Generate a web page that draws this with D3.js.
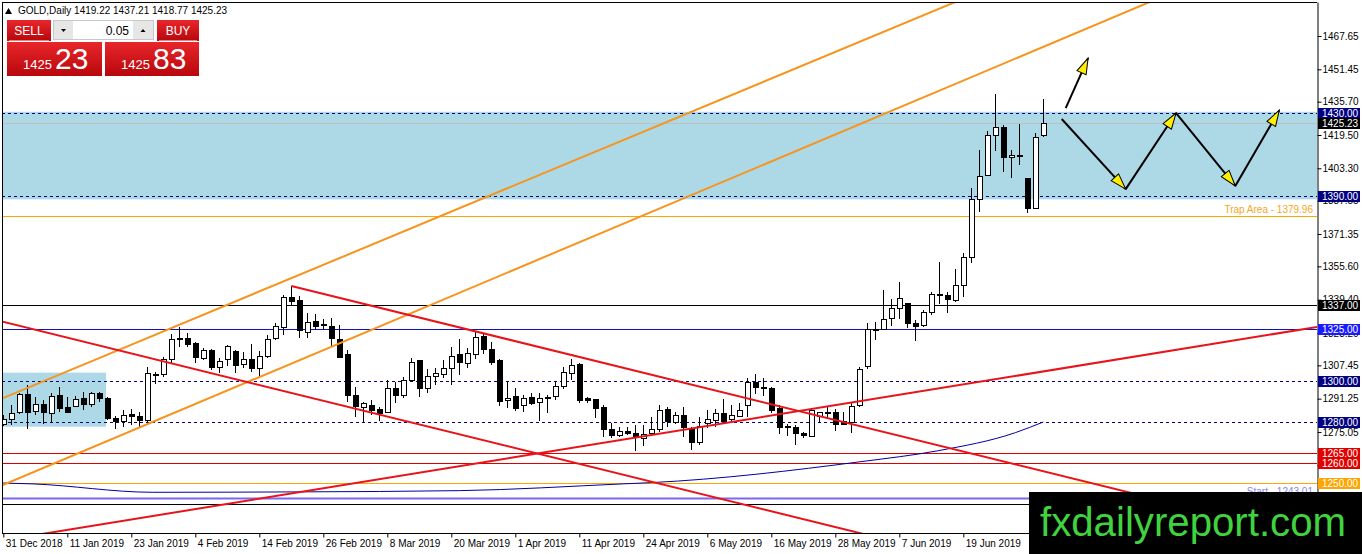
<!DOCTYPE html>
<html>
<head>
<meta charset="utf-8">
<script src="https://cdnjs.cloudflare.com/ajax/libs/d3/7.8.5/d3.min.js"></script>
<style>
  body { margin: 0; background: #fff; }
  svg { display: block; }
  text { font-family: "Liberation Sans", Arial, sans-serif; }
</style>
</head>
<body>
<svg id="chart" width="1362" height="554"></svg>
<script>
"use strict";

// ---- data ----
var dateLabels = ["31 Dec 2018", "11 Jan 2019", "23 Jan 2019", "4 Feb 2019", "14 Feb 2019",
  "26 Feb 2019", "8 Mar 2019", "20 Mar 2019", "1 Apr 2019", "11 Apr 2019", "24 Apr 2019",
  "6 May 2019", "16 May 2019", "28 May 2019", "7 Jun 2019", "19 Jun 2019"];

var priceTicks = [1467.65, 1451.45, 1435.70, 1419.50, 1403.30, 1387.55, 1371.35, 1355.60,
  1339.40, 1323.20, 1307.45, 1291.25, 1275.05, 1258.85, 1243.10];

var opens = [1278.8,1281.2,1284.4,1293.4,1285.0,1288.5,1284.1,1292.9,1287.1,1287.4,
  1291.2,1288.2,1293.9,1291.4,1281.7,1280.0,1283.6,1282.5,1280.4,1302.5,
  1302.8,1310.5,1320.6,1320.6,1318.2,1310.9,1314.9,1306.5,1310.1,1314.4,
  1307.9,1310.1,1306.0,1311.7,1320.6,1325.8,1340.4,1338.8,1323.5,1328.7,
  1327.4,1326.3,1320.1,1312.5,1293.0,1287.1,1287.8,1286.1,1284.6,1296.3,
  1292.7,1300.3,1309.6,1296.3,1301.9,1303.1,1306.0,1312.5,1308.4,1312.5,
  1321.7,1315.3,1309.7,1290.3,1292.2,1287.7,1291.9,1289.3,1291.3,1292.2,
  1297.1,1303.6,1308.1,1291.4,1290.6,1287.1,1276.3,1273.1,1275.2,1274.4,
  1272.0,1274.1,1276.3,1286.1,1279.6,1283.3,1276.3,1269.8,1279.2,1280.5,
  1284.1,1280.9,1282.8,1287.7,1299.0,1296.9,1296.3,1286.6,1277.6,1277.3,
  1274.4,1272.8,1282.5,1284.3,1284.4,1280.0,1279.6,1287.7,1306.8,1324.5,
  1325.0,1330.3,1335.2,1337.3,1327.6,1326.6,1333.1,1341.6,1341.6,1339.2,
  1346.5,1360.0,1387.9,1400.0,1419.5,1423.2,1408.7,1409.7,1398.4,1383.8,
  1419.22];
var highs = [1283.3,1288.2,1293.9,1297.9,1291.9,1290.6,1294.2,1296.8,1291.9,1292.5,
  1294.6,1294.6,1294.6,1291.9,1282.8,1285.7,1286.1,1284.9,1306.5,1304.4,
  1311.7,1322.7,1326.3,1323.3,1318.7,1315.7,1315.2,1310.9,1317.3,1314.9,
  1314.1,1317.7,1314.4,1322.2,1327.9,1341.7,1346.0,1341.3,1332.8,1332.3,
  1330.0,1330.3,1327.1,1314.9,1297.1,1289.8,1290.6,1287.3,1300.3,1299.2,
  1301.9,1310.9,1310.1,1305.7,1306.0,1310.1,1316.5,1320.1,1315.7,1323.8,
  1323.0,1319.0,1310.4,1299.5,1296.3,1293.0,1294.2,1293.9,1293.0,1300.0,
  1306.8,1310.4,1308.7,1292.2,1290.9,1288.2,1279.2,1277.3,1277.6,1278.4,
  1278.4,1282.2,1288.2,1287.1,1284.9,1287.3,1277.6,1282.5,1285.7,1286.1,
  1290.9,1288.2,1289.3,1301.2,1303.2,1301.2,1297.1,1288.2,1278.9,1278.4,
  1275.2,1286.6,1284.9,1287.3,1286.1,1284.9,1289.8,1306.5,1328.2,1328.7,
  1344.1,1339.6,1348.1,1337.9,1329.5,1334.4,1343.3,1357.9,1343.3,1354.2,
  1362.2,1393.6,1412.2,1421.6,1439.4,1424.4,1412.2,1424.9,1398.4,1420.6,
  1437.21];
var lows = [1278.0,1278.4,1283.8,1276.3,1283.3,1278.9,1279.6,1285.0,1284.1,1287.1,
  1285.7,1287.4,1289.8,1280.9,1276.3,1277.3,1278.4,1277.3,1280.0,1298.4,
  1301.9,1308.4,1316.5,1316.5,1308.4,1310.1,1305.2,1303.6,1306.9,1303.6,
  1306.0,1304.4,1301.9,1310.9,1319.8,1322.2,1336.5,1320.9,1320.9,1325.1,
  1324.7,1316.5,1310.9,1289.8,1282.5,1280.0,1283.3,1280.4,1284.1,1289.0,
  1291.7,1299.5,1292.2,1293.9,1297.9,1301.2,1297.9,1302.8,1306.0,1310.4,
  1313.0,1307.6,1287.7,1286.6,1285.4,1285.0,1288.2,1280.5,1284.1,1290.6,
  1295.8,1300.3,1289.0,1289.3,1281.7,1272.4,1272.0,1272.8,1273.6,1265.9,
  1268.2,1273.1,1275.2,1277.3,1278.9,1272.8,1266.3,1268.7,1276.8,1277.6,
  1278.9,1279.6,1282.2,1282.5,1293.5,1292.6,1284.4,1274.1,1273.1,1268.7,
  1272.0,1272.5,1280.0,1281.7,1275.7,1278.4,1274.7,1287.3,1305.5,1319.8,
  1324.7,1326.6,1329.9,1325.5,1319.4,1325.9,1332.0,1337.3,1332.8,1338.4,
  1340.8,1357.4,1382.2,1399.6,1411.9,1401.6,1398.4,1404.9,1381.4,1383.4,
  1418.77];
var closes = [1281.2,1284.1,1293.4,1284.4,1288.5,1284.4,1292.2,1286.6,1284.6,1290.6,
  1288.2,1293.9,1291.4,1281.7,1280.0,1283.3,1282.5,1280.4,1303.6,1303.0,
  1310.1,1320.1,1319.8,1317.4,1311.4,1314.6,1306.5,1309.2,1316.5,1307.3,
  1310.1,1306.0,1312.0,1320.1,1326.3,1340.4,1338.4,1324.2,1328.4,1326.3,
  1327.2,1320.3,1311.2,1293.0,1287.4,1289.0,1285.3,1284.1,1296.3,1292.7,
  1300.3,1309.0,1296.0,1301.9,1303.6,1306.0,1312.0,1308.8,1313.3,1321.1,
  1315.3,1308.8,1289.8,1291.5,1286.6,1291.5,1289.0,1291.5,1291.6,1297.4,
  1303.9,1307.6,1290.3,1290.3,1286.6,1276.3,1273.1,1275.2,1274.1,1272.4,
  1273.6,1276.3,1285.4,1280.1,1283.3,1277.3,1269.8,1277.6,1280.9,1284.1,
  1280.0,1283.3,1285.7,1299.2,1296.8,1296.7,1285.7,1277.3,1277.0,1274.4,
  1273.1,1285.7,1284.4,1284.5,1278.9,1278.9,1287.3,1305.2,1325.0,1324.7,
  1329.9,1335.2,1340.1,1327.6,1326.3,1333.1,1341.9,1341.8,1339.6,1346.5,
  1360.0,1388.2,1399.2,1419.5,1423.2,1408.7,1409.6,1409.5,1383.8,1418.4,
  1425.23];

// moving average, knots [bar, price]
var maKnots = [[0,1250.2],[3.6,1249.8],[18.7,1245.7],[37,1245.9],[57,1246.5],
  [77.5,1249.8],[81,1250.4],[107.2,1260.6],[116.8,1265.9],[126.5,1274.7],[130,1279.9]];

// horizontal levels
var dashedLevels = [1430.00, 1390.00, 1300.00, 1280.00];
var blackLevels = [1337.00, 1239.90];
var blueLevels = [1325.00];
var redLevels = [1265.00, 1260.00];
var orangeLevels = [1250.00];
var bidPrice = 1425.23;
var trapLevel = 1379.96;
var startLevel = 1243.01;

// zones [barFrom, barTo, priceTop, priceBottom]
var bigZone = [-1, 170, 1430.8, 1388.2];
var smallZone = [-0.2, 12.85, 1303.9, 1277.6];

// trend lines, two points each [bar, price]
var orangeLines = [[[-5, 1283.5], [119, 1484.2]], [[-5, 1241.1], [143.3, 1484.2]]];
var redLines = [[[36, 1346.05], [141.5, 1244.9]], [[-5, 1333.4], [106.5, 1226.4]],
  [[-5, 1219.2], [164.2, 1326.1]]];

// forecast arrows [bar, price]
var zigzag = [[132.3,1427.3],[140.3,1393.2],[146.6,1430.2],[154,1394.7],[159.5,1431.6]];
var upArrow = [[132.8,1432.6],[135.6,1456.9]];

// ---- drawing ----
var svg = d3.select("#chart");
var plot = {left: 2, right: 1317, top: 2, bottom: 533};

var x = d3.scaleLinear().domain([0, 130]).range([3.3, 1043.3]);
var y = d3.scaleLinear().domain([1225.9, 1484.2]).range([plot.bottom, plot.top]);

svg.append("defs").append("clipPath").attr("id", "plotclip")
  .append("rect")
    .attr("x", plot.left).attr("y", plot.top)
    .attr("width", plot.right - plot.left).attr("height", plot.bottom - plot.top);

var defs = svg.select("defs");
defs.append("marker")
    .attr("id", "head")
    .attr("markerUnits", "userSpaceOnUse")
    .attr("viewBox", "0 0 18 12")
    .attr("refX", 17).attr("refY", 6)
    .attr("markerWidth", 18).attr("markerHeight", 12)
    .attr("orient", "auto")
  .append("path")
    .attr("d", "M1,1 L17,6 L1,11 Z")
    .attr("fill", "#ffee00")
    .attr("stroke", "#000")
    .attr("stroke-width", 1);

var g = svg.append("g").attr("clip-path", "url(#plotclip)");

// zones
[bigZone, smallZone].forEach(function(z) {
  g.append("rect")
    .attr("x", x(z[0])).attr("y", y(z[2]))
    .attr("width", x(z[1]) - x(z[0]))
    .attr("height", y(z[3]) - y(z[2]))
    .attr("fill", "#add8e6");
});

function hline(v, color, width, dash) {
  var yy = Math.round(y(v)) + 0.5;
  g.append("line")
    .attr("x1", plot.left).attr("x2", plot.right)
    .attr("y1", yy).attr("y2", yy)
    .attr("stroke", color)
    .attr("stroke-width", width)
    .attr("stroke-dasharray", dash || null);
}

hline(bidPrice, "#c0c0c0", 1);
dashedLevels.forEach(function(v) { hline(v, "#000080", 1, "3,3"); });
blackLevels.forEach(function(v) { hline(v, "#000", 1); });
blueLevels.forEach(function(v) { hline(v, "#1010c0", 1); });
redLevels.forEach(function(v) { hline(v, "#e00000", 1); });
orangeLevels.forEach(function(v) { hline(v, "#ffa500", 1); });
hline(trapLevel, "#ffa500", 1);
hline(startLevel, "#7b68ee", 2);

// moving average
g.append("path")
  .datum(maKnots)
  .attr("fill", "none")
  .attr("stroke", "#0000a0")
  .attr("stroke-width", 1)
  .attr("d", d3.line()
    .x(function(d) { return x(d[0]); })
    .y(function(d) { return y(d[1]); })
    .curve(d3.curveMonotoneX));

// candles
var candles = g.append("g").attr("shape-rendering", "crispEdges");
var bars = candles.selectAll(".candle")
  .data(d3.range(opens.length))
  .enter().append("g")
    .attr("class", "candle");

bars.append("line")
  .attr("x1", function(i) { return Math.round(x(i)) + 0.5; })
  .attr("x2", function(i) { return Math.round(x(i)) + 0.5; })
  .attr("y1", function(i) { return y(highs[i]); })
  .attr("y2", function(i) { return y(lows[i]); })
  .attr("stroke", "#000");

bars.append("rect")
  .attr("x", function(i) { return Math.round(x(i)) - 2 + 0.5; })
  .attr("width", 5)
  .attr("y", function(i) { return y(Math.max(opens[i], closes[i])); })
  .attr("height", function(i) {
    return Math.max(1, Math.abs(y(opens[i]) - y(closes[i])));
  })
  .attr("fill", function(i) { return closes[i] >= opens[i] ? "#fff" : "#000"; })
  .attr("stroke", "#000");

// trend lines, stretched out past the plot edges
function ray(p, far) {
  var slope = (p[1][1] - p[0][1]) / (p[1][0] - p[0][0]);
  return [p[0], [far, p[0][1] + slope * (far - p[0][0])]];
}
var seg = d3.line().x(function(d) { return x(d[0]); }).y(function(d) { return y(d[1]); });

orangeLines.forEach(function(p) {
  g.append("path").attr("d", seg(ray(p, 200)))
    .attr("stroke", "#f7941d").attr("stroke-width", 2).attr("fill", "none");
});
redLines.forEach(function(p) {
  g.append("path").attr("d", seg(ray(p, 200)))
    .attr("stroke", "#e8141b").attr("stroke-width", 2).attr("fill", "none");
});

// level captions
g.append("text")
  .attr("x", 1313).attr("y", y(trapLevel) - 3)
  .attr("text-anchor", "end")
  .attr("font-size", 10)
  .attr("fill", "#f5a623")
  .text("Trap Area - " + trapLevel.toFixed(2));
g.append("text")
  .attr("x", 1313).attr("y", y(startLevel) - 3)
  .attr("text-anchor", "end")
  .attr("font-size", 10)
  .attr("fill", "#8a82e8")
  .text("Start - " + startLevel.toFixed(2));

// forecast arrows
function arrow(a, b) {
  svg.append("line")
    .attr("x1", x(a[0])).attr("y1", y(a[1]))
    .attr("x2", x(b[0])).attr("y2", y(b[1]))
    .attr("stroke", "#000").attr("stroke-width", 2)
    .attr("marker-end", "url(#head)");
}
d3.pairs(zigzag).forEach(function(p) { arrow(p[0], p[1]); });
arrow(upArrow[0], upArrow[1]);

// axes
var yAxis = d3.axisRight(y)
  .tickValues(priceTicks)
  .tickFormat(d3.format(".2f"))
  .tickSize(4)
  .tickSizeOuter(0);
var ya = svg.append("g")
  .attr("transform", "translate(" + (plot.right + 0.5) + ",0)")
  .call(yAxis);
ya.selectAll("text").attr("font-size", 10).attr("fill", "#000")
  .attr("font-family", '"Liberation Sans", Arial, sans-serif').attr("x", 5);
ya.selectAll("line, path").attr("stroke", "#000");

var xAxis = d3.axisBottom(x)
  .tickValues(d3.range(0, 121, 8))
  .tickFormat(function(d, i) { return dateLabels[i]; })
  .tickSize(4)
  .tickSizeOuter(0);
var xa = svg.append("g")
  .attr("transform", "translate(0," + (plot.bottom + 0.5) + ")")
  .call(xAxis);
xa.select(".domain").attr("d", "M" + plot.left + ",0H" + plot.right);
xa.selectAll("text").attr("font-size", 10).attr("fill", "#000")
  .attr("font-family", '"Liberation Sans", Arial, sans-serif')
  .attr("text-anchor", "start").attr("x", 2).attr("y", 6);
xa.selectAll("line, path").attr("stroke", "#000");

// left frame and top edge
svg.append("line").attr("x1", plot.left + 0.5).attr("x2", plot.left + 0.5)
  .attr("y1", plot.top).attr("y2", plot.bottom).attr("stroke", "#000");
svg.append("line").attr("x1", plot.left).attr("x2", plot.right)
  .attr("y1", plot.top + 0.5).attr("y2", plot.top + 0.5).attr("stroke", "#000");

// price tags on the right axis
var tags = [
  [1430.00, "#000080"], [bidPrice, "#000"], [1390.00, "#000080"], [1337.00, "#000"],
  [1325.00, "#1a1aff"], [1300.00, "#000080"], [1280.00, "#000080"], [1265.00, "#e00000"],
  [1260.00, "#e00000"], [1250.00, "#ffa500"]
];
tags.forEach(function(t) {
  var yy = Math.round(y(t[0]));
  svg.append("rect")
    .attr("x", plot.right + 1).attr("y", yy - 5)
    .attr("width", 42).attr("height", 11)
    .attr("fill", t[1]);
  svg.append("text")
    .attr("x", plot.right + 5).attr("y", yy + 4)
    .attr("font-size", 10).attr("fill", "#fff")
    .text(t[0].toFixed(2));
});

// header line
var head = svg.append("g");
head.append("path").attr("d", "M5,14 L8.5,8 L12,14 Z").attr("fill", "#000");
head.append("text").attr("x", 18).attr("y", 14).attr("font-size", 10).attr("fill", "#000")
  .text("GOLD,Daily  " + [opens[130], highs[130], lows[130], closes[130]].map(function(v) {
    return v.toFixed(2); }).join(" "));

// one-click trading panel
var grad = defs.append("linearGradient").attr("id", "redgrad")
  .attr("x1", 0).attr("y1", 0).attr("x2", 0).attr("y2", 1);
grad.append("stop").attr("offset", "0%").attr("stop-color", "#e8262b");
grad.append("stop").attr("offset", "100%").attr("stop-color", "#b8070c");

var panel = svg.append("g");
function button(x0, w, label) {
  panel.append("rect").attr("x", x0).attr("y", 20).attr("width", w).attr("height", 21)
    .attr("fill", "url(#redgrad)");
  panel.append("line").attr("x1", x0 + 2).attr("x2", x0 + w - 2).attr("y1", 40.5).attr("y2", 40.5)
    .attr("stroke", "#f08080");
  panel.append("text").attr("x", x0 + w / 2).attr("y", 35).attr("text-anchor", "middle")
    .attr("font-size", 12).attr("fill", "#fff").text(label);
}
button(7, 44, "SELL");
button(157, 42, "BUY");

panel.append("rect").attr("x", 53.5).attr("y", 20.5).attr("width", 100).attr("height", 19)
  .attr("fill", "#fff").attr("stroke", "#c8c8c8");
panel.append("rect").attr("x", 54).attr("y", 21).attr("width", 19).attr("height", 18).attr("fill", "#e6e6e6");
panel.append("rect").attr("x", 133).attr("y", 21).attr("width", 20).attr("height", 18).attr("fill", "#e6e6e6");
panel.append("path").attr("d", "M61,29 L66,29 L63.5,32 Z").attr("fill", "#000");
panel.append("path").attr("d", "M140.5,32 L145.5,32 L143,29 Z").attr("fill", "#000");
panel.append("text").attr("x", 129).attr("y", 35).attr("text-anchor", "end")
  .attr("font-size", 12).attr("fill", "#000").text("0.05");

function priceBox(x0, w, big, pips) {
  panel.append("rect").attr("x", x0).attr("y", 42).attr("width", w).attr("height", 34)
    .attr("fill", "url(#redgrad)");
  panel.append("text").attr("x", x0 + 16).attr("y", 69).attr("font-size", 13)
    .attr("fill", "#fff").text(big);
  panel.append("text").attr("x", x0 + 48).attr("y", 69).attr("font-size", 30)
    .attr("fill", "#fff").text(pips);
}
priceBox(7, 95, "1425", "23");
priceBox(105, 94, "1425", "83");

// watermark
svg.append("rect").attr("x", 1029).attr("y", 492).attr("width", 333).attr("height", 62)
  .attr("fill", "#000");
svg.append("text").attr("x", 1040).attr("y", 536)
  .attr("font-size", 40).attr("fill", "#3fd43f")
  .attr("textLength", 306).attr("lengthAdjust", "spacingAndGlyphs")
  .text("fxdailyreport.com");
</script>
</body>
</html>
